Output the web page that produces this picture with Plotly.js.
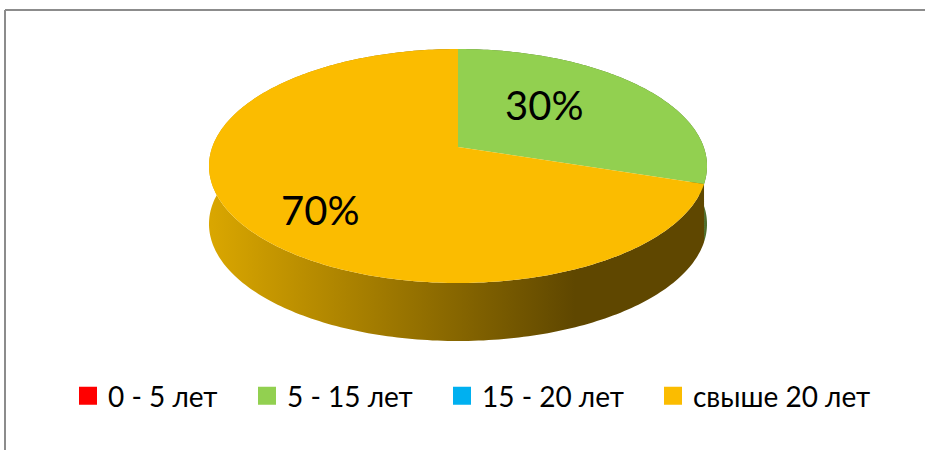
<!DOCTYPE html>
<html>
<head>
<meta charset="utf-8">
<script src="https://cdn.plot.ly/plotly-3.0.1.min.js"></script>
<style>html,body{margin:0;padding:0;background:#fff;} #chart{width:925px;height:450px;}</style>
</head>
<body>
<div id="chart"></div>
<script>
// ---- data ----
const categories = ['0 - 5 лет', '5 - 15 лет', '15 - 20 лет', 'свыше 20 лет'];
const values = [0, 30, 0, 70];
const colors = ['#ff0000', '#92d050', '#00b0f0', '#fbbc00'];

// ---- geometry (pixel-space helper axes) ----
const W = 925, Hgt = 450;
const G = {cx: 458, cy: 147, R: 245.7, Rv: 113.9, c: 0.1625, depth: 58};
function proj(deg) {
  const t = deg * Math.PI / 180, X = Math.sin(t), Z = Math.cos(t), s = 1 / (1 + G.c * Z);
  return [G.cx + G.R * X * s, G.cy - G.Rv * Z * s];
}
function arc(a0, a1, dy) {
  const xs = [], ys = [];
  const n = Math.max(2, Math.ceil(Math.abs(a1 - a0)));
  for (let i = 0; i <= n; i++) {
    const p = proj(a0 + (a1 - a0) * i / n);
    xs.push(p[0]); ys.push(p[1] + dy);
  }
  return [xs, ys];
}

const total = values.reduce((a, b) => a + b, 0);
const sides = [], tops = [], annotations = [];
const sideStyle = {
  '5 - 15 лет': {fillcolor: '#4f6e2c'},
  'свыше 20 лет': {fillgradient: {type: 'horizontal', start: 212, stop: 575,
                   colorscale: [[0, '#d9a600'], [1, '#5f4700']]}}
};
const labelPos = {'5 - 15 лет': [544, 105], 'свыше 20 лет': [320, 210]};
let cum = 0;
values.forEach((v, i) => {
  if (v <= 0) return;
  const a0 = cum / total * 360, a1 = (cum + v) / total * 360;
  cum += v;
  const top = arc(a0, a1, 0), bot = arc(a0, a1, G.depth);
  const sx = top[0].concat(bot[0].slice().reverse());
  const sy = top[1].concat(bot[1].slice().reverse());
  const st = sideStyle[categories[i]] || {fillcolor: colors[i]};
  sides.push(Object.assign({type: 'scatter', x: sx, y: sy, mode: 'none', fill: 'toself',
    showlegend: false, hoverinfo: 'skip'}, st));
  tops.push({type: 'scatter', x: [G.cx].concat(top[0], [G.cx]), y: [G.cy].concat(top[1], [G.cy]),
    mode: 'none', fill: 'toself', fillcolor: colors[i], showlegend: false,
    name: categories[i], hoverinfo: 'name'});
  const lp = labelPos[categories[i]];
  annotations.push({x: lp[0], y: lp[1], xref: 'x', yref: 'y', showarrow: false,
    text: Math.round(v / total * 100) + '%',
    font: {family: 'Lato, "Open Sans", sans-serif', size: 40, color: '#000000'}});
});

// legend entries (one legend box each, so entries sit where the original has them)
const legendX = [68, 247, 442, 653];
const legendTraces = categories.map((c, i) => ({
  type: 'scatter', x: [null], y: [null], mode: 'markers', name: c,
  marker: {symbol: 'square', size: 16, color: colors[i], line: {color: colors[i], width: 2}},
  legend: i === 0 ? 'legend' : 'legend' + (i + 1), hoverinfo: 'skip'
}));

const layout = {
  width: W, height: Hgt,
  margin: {l: 0, r: 0, t: 0, b: 0},
  paper_bgcolor: '#ffffff', plot_bgcolor: '#ffffff',
  xaxis: {range: [0, W], visible: false, fixedrange: true},
  yaxis: {range: [Hgt, 0], visible: false, fixedrange: true},
  annotations: annotations,
  shapes: [
    {type: 'line', xref: 'paper', yref: 'paper', x0: 5 / W, x1: 1, y0: 1 - 10 / Hgt, y1: 1 - 10 / Hgt,
     line: {color: '#8c8c8c', width: 2}},
    {type: 'line', xref: 'paper', yref: 'paper', x0: 5 / W, x1: 5 / W, y0: 0, y1: 1 - 10 / Hgt,
     line: {color: '#8c8c8c', width: 2}}
  ]
};
legendX.forEach((px, i) => {
  const key = i === 0 ? 'legend' : 'legend' + (i + 1);
  layout[key] = {orientation: 'h', x: px / W, xanchor: 'left', y: 1 - 396 / Hgt, yanchor: 'middle',
    bgcolor: 'rgba(0,0,0,0)', borderwidth: 0,
    font: {family: 'Lato, "Open Sans", sans-serif', size: 28, color: '#000000'}};
});

Plotly.newPlot('chart', sides.concat(tops, legendTraces), layout, {displayModeBar: false, staticPlot: true});
</script>
</body>
</html>
